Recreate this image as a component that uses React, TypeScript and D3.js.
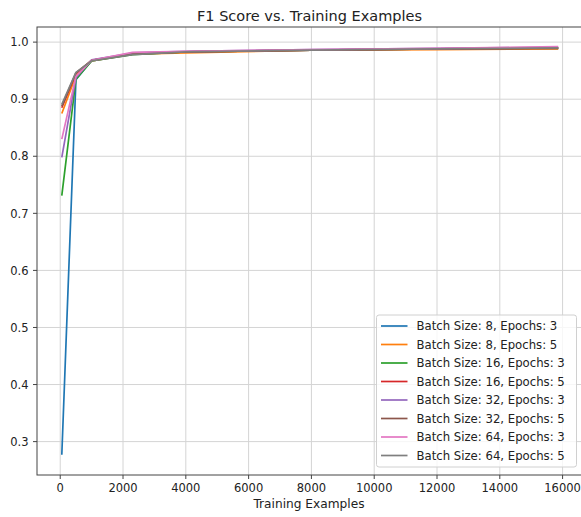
import React from "react";
import * as d3 from "d3";

const W = 581;
const H = 517;

const trainingExamples = [50, 500, 1000, 2300, 4000, 8000, 12000, 15860];

const seriesNames = [
  "Batch Size: 8, Epochs: 3",
  "Batch Size: 8, Epochs: 5",
  "Batch Size: 16, Epochs: 3",
  "Batch Size: 16, Epochs: 5",
  "Batch Size: 32, Epochs: 3",
  "Batch Size: 32, Epochs: 5",
  "Batch Size: 64, Epochs: 3",
  "Batch Size: 64, Epochs: 5",
];

const bs8ep3 = [0.277, 0.934, 0.968, 0.979, 0.983, 0.986, 0.988, 0.989];
const bs8ep5 = [0.875, 0.941, 0.967, 0.979, 0.981, 0.986, 0.987, 0.988];
const bs16ep3 = [0.731, 0.935, 0.967, 0.978, 0.983, 0.986, 0.988, 0.99];
const bs16ep5 = [0.885, 0.945, 0.968, 0.98, 0.983, 0.986, 0.988, 0.99];
const bs32ep3 = [0.798, 0.938, 0.969, 0.981, 0.984, 0.987, 0.989, 0.991];
const bs32ep5 = [0.888, 0.946, 0.968, 0.979, 0.983, 0.986, 0.988, 0.989];
const bs64ep3 = [0.83, 0.94, 0.968, 0.982, 0.984, 0.987, 0.989, 0.992];
const bs64ep5 = [0.891, 0.947, 0.967, 0.978, 0.983, 0.986, 0.988, 0.99];

const seriesValues = [bs8ep3, bs8ep5, bs16ep3, bs16ep5, bs32ep3, bs32ep5, bs64ep3, bs64ep5];

const colors = ["#1f77b4", "#ff7f0e", "#2ca02c", "#d62728", "#9467bd", "#8c564b", "#e377c2", "#7f7f7f"];

const xTicks = [0, 2000, 4000, 6000, 8000, 10000, 12000, 14000, 16000];
const yTicks = [0.3, 0.4, 0.5, 0.6, 0.7, 0.8, 0.9, 1.0];

const FONT = "DejaVu Sans, sans-serif";

export default function App() {
  const left = 37;
  const right = 583;
  const top = 27;
  const bottom = 475;

  const x = d3.scaleLinear().domain([-740, 16650]).range([left, right]);
  const y = d3.scaleLinear().domain([0.2415, 1.0265]).range([bottom, top]);

  const line = d3
    .line<[number, number]>()
    .x((d) => x(d[0]))
    .y((d) => y(d[1]));

  const legX = 376.5;
  const legY = 315;
  const legW = 200;
  const legH = 152;
  const rowH = 18.5;

  return (
    <svg
      width={W}
      height={H}
      style={{ position: "absolute", left: 0, top: 0, background: "#fff" }}
      fontFamily={FONT}
    >
      <rect x={0} y={0} width={W} height={H} fill="#fff" />
      {/* grid */}
      {xTicks.map((t) => (
        <line key={"gx" + t} x1={x(t)} x2={x(t)} y1={top} y2={bottom} stroke="#d4d4d4" strokeWidth={1} />
      ))}
      {yTicks.map((t) => (
        <line key={"gy" + t} x1={left} x2={right} y1={y(t)} y2={y(t)} stroke="#d4d4d4" strokeWidth={1} />
      ))}
      {/* lines */}
      {seriesValues.map((vals, i) => (
        <path
          key={"s" + i}
          d={line(vals.map((v, j) => [trainingExamples[j], v] as [number, number])) || ""}
          fill="none"
          stroke={colors[i]}
          strokeWidth={1.7}
          strokeLinejoin="round"
        />
      ))}
      {/* spines */}
      <rect x={left} y={top} width={right - left} height={bottom - top} fill="none" stroke="#444" strokeWidth={1} />
      {/* ticks */}
      {xTicks.map((t) => (
        <g key={"tx" + t}>
          <line x1={x(t)} x2={x(t)} y1={bottom} y2={bottom + 4} stroke="#444" />
          <text x={x(t)} y={bottom + 16.5} textAnchor="middle" fontSize={11.5} fill="#222">
            {t}
          </text>
        </g>
      ))}
      {yTicks.map((t) => (
        <g key={"ty" + t}>
          <line x1={left - 4} x2={left} y1={y(t)} y2={y(t)} stroke="#444" />
          <text x={left - 8.5} y={y(t) + 4.2} textAnchor="end" fontSize={11.5} fill="#222">
            {t.toFixed(1)}
          </text>
        </g>
      ))}
      {/* title & labels */}
      <text x={(left + right) / 2 - 0.5} y={20.5} textAnchor="middle" fontSize={14.5} fill="#222">
        F1 Score vs. Training Examples
      </text>
      <text x={(left + right) / 2 - 1} y={507.5} textAnchor="middle" fontSize={12.2} fill="#222">
        Training Examples
      </text>
      {/* legend */}
      <rect x={legX} y={legY} width={legW} height={legH} rx={2.5} fill="#fff" fillOpacity={0.8} stroke="#d0d0d0" />
      {seriesNames.map((name, i) => (
        <g key={"l" + i}>
          <line
            x1={legX + 4.5}
            x2={legX + 31}
            y1={legY + 11 + i * rowH}
            y2={legY + 11 + i * rowH}
            stroke={colors[i]}
            strokeWidth={1.7}
          />
          <text x={legX + 40} y={legY + 11 + i * rowH + 4.2} fontSize={11.7} fill="#222">
            {name}
          </text>
        </g>
      ))}
    </svg>
  );
}
